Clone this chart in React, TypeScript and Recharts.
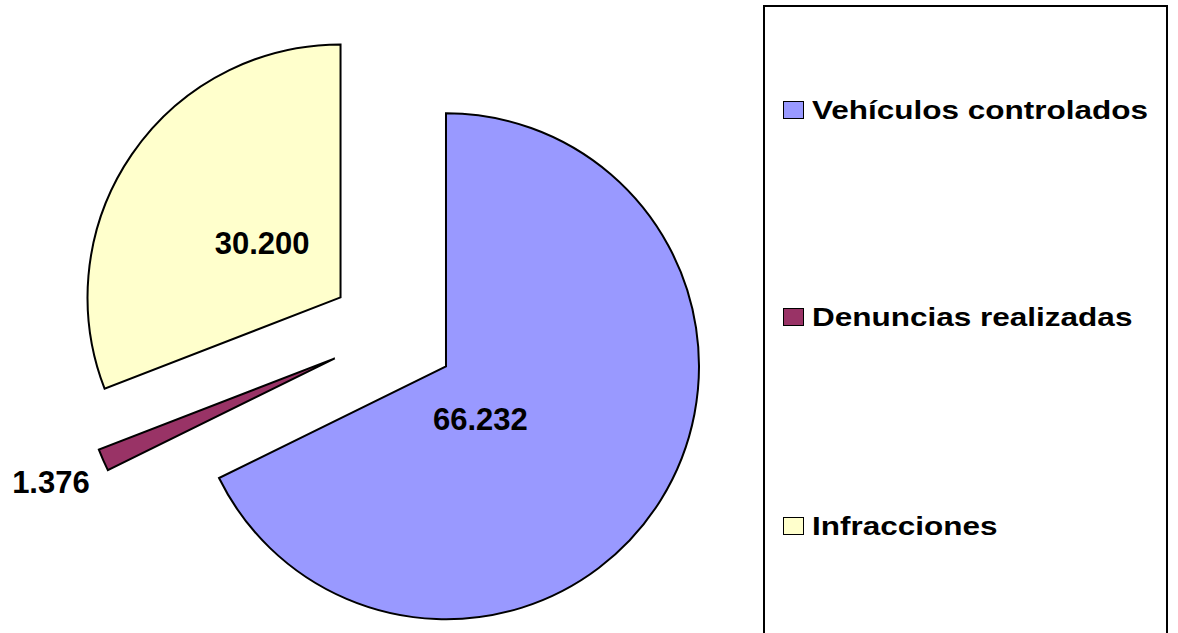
import { PieChart, Pie, Sector, Legend } from 'recharts';

const categories = ['Vehículos controlados', 'Denuncias realizadas', 'Infracciones'];
const values = [66232, 1376, 30200];
const valueLabels = ['66.232', '1.376', '30.200'];
const colors = ['#9999FF', '#993366', '#FFFFCC'];

const data = categories.map((name, i) => ({ name, value: values[i] }));

const RAD = Math.PI / 180;
const EXPLODE = 63;
const FONT = '"Liberation Sans", Arial, Helvetica, sans-serif';

// where the value text sits, measured from the (exploded) slice apex
const labelPlacement = [
  { radius: 63, angleShift: -25 },
  { radius: 310, angleShift: 0 },
  { radius: 95, angleShift: 0 },
];

const renderSlice = (props: any) => {
  const { cx, cy, outerRadius, startAngle, endAngle, index } = props;
  const mid = (startAngle + endAngle) / 2;
  const ox = cx + EXPLODE * Math.cos(-mid * RAD);
  const oy = cy + EXPLODE * Math.sin(-mid * RAD);
  const lp = labelPlacement[index];
  const la = mid + lp.angleShift;
  const tx = ox + lp.radius * Math.cos(-la * RAD);
  const ty = oy + lp.radius * Math.sin(-la * RAD);
  return (
    <g key={`slice-${index}`}>
      <Sector
        cx={ox}
        cy={oy}
        innerRadius={0}
        outerRadius={outerRadius}
        startAngle={startAngle}
        endAngle={endAngle}
        fill={colors[index]}
        stroke="#000"
        strokeWidth={2}
      />
      <text
        x={tx}
        y={ty}
        textAnchor="middle"
        dominantBaseline="central"
        fontFamily={FONT}
        fontWeight="bold"
        fontSize={31}
        fill="#000"
      >
        {valueLabels[index]}
      </text>
    </g>
  );
};

const itemCenters = [103, 310, 519];

const renderLegend = () => (
  <div
    style={{
      position: 'relative',
      width: 401,
      height: 660,
      border: '2px solid #000',
      background: '#fff',
    }}
  >
    {categories.map((name, i) => (
      <div
        key={`leg-${i}`}
        style={{
          position: 'absolute',
          left: 18,
          top: itemCenters[i] - 15,
          height: 30,
          display: 'flex',
          alignItems: 'center',
          whiteSpace: 'nowrap',
        }}
      >
        <span
          style={{
            display: 'inline-block',
            width: 19,
            height: 16,
            background: colors[i],
            border: '1.5px solid #000',
          }}
        />
        <span
          style={{
            display: 'inline-block',
            marginLeft: 8,
            fontFamily: FONT,
            fontWeight: 'bold',
            fontSize: 25,
            color: '#000',
            transform: 'scaleX(1.26)',
            transformOrigin: 'left center',
          }}
        >
          {name}
        </span>
      </div>
    ))}
  </div>
);

export default function App() {
  return (
    <div style={{ position: 'absolute', left: 0, top: 0, width: 1178, height: 633, overflow: 'hidden', background: '#fff' }}>
      <PieChart width={1178} height={633} margin={{ top: 0, right: 0, bottom: 0, left: 0 }}>
        <Pie
          data={data}
          dataKey="value"
          nameKey="name"
          cx={392.5}
          cy={333}
          outerRadius={253}
          startAngle={90}
          endAngle={-270}
          fill="none"
          stroke="none"
          label={renderSlice}
          labelLine={false}
          isAnimationActive={false}
        />
        <Legend
          layout="vertical"
          align="right"
          verticalAlign="top"
          content={renderLegend}
          wrapperStyle={{ position: 'absolute', left: 763, top: 5, width: 405, height: 664 }}
        />
      </PieChart>
    </div>
  );
}
